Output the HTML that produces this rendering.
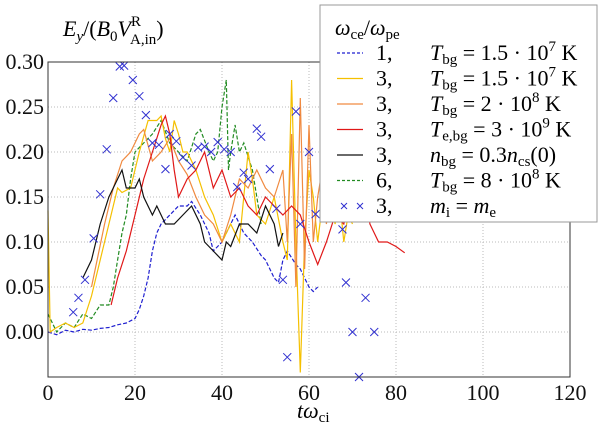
<!DOCTYPE html>
<html><head><meta charset="utf-8">
<style>
body{margin:0;background:#fff;}
svg{display:block;}
svg text{font-family:"Liberation Serif","DejaVu Serif",serif;}
</style></head>
<body>
<svg id="chart" width="600" height="424" viewBox="0 0 600 424" xmlns="http://www.w3.org/2000/svg" font-family="Liberation Serif, DejaVu Serif, serif">
<rect x="0" y="0" width="600" height="424" fill="#fff"/>
<g id="grid"></g>
<g id="series"></g>
<rect x="48" y="62" width="522" height="315" fill="none" stroke="#333" stroke-width="1"/>
<g id="ticks" font-size="22" fill="#111"></g>
<text x="63" y="36" font-size="22" font-style="italic">E<tspan font-size="15" dy="5">y</tspan><tspan dy="-5" font-style="normal">/(</tspan>B<tspan font-size="15" dy="5" font-style="normal">0</tspan><tspan dy="-5">V</tspan><tspan font-size="15" dy="-10" font-style="normal">R</tspan><tspan font-size="15" dx="-11" dy="18" font-style="normal">A,in</tspan><tspan dy="-8" font-style="normal">)</tspan></text>
<text x="297" y="418" font-size="22" font-style="italic">tω<tspan font-size="15" dy="4" font-style="normal">ci</tspan></text>
<g>
<rect x="320" y="5" width="277" height="217" fill="#fff" stroke="#999" stroke-width="1"/>
<text x="335" y="35" font-size="22" font-style="italic">ω<tspan font-size="15" dy="4" font-style="normal">ce</tspan><tspan dy="-4" font-style="normal">/</tspan>ω<tspan font-size="15" dy="4" font-style="normal">pe</tspan></text>
<g id="legend-entries" font-size="22"></g>
</g>
</svg>
<script>
const xTicks=[0,20,40,60,80,100,120];
const yTicks=[0.00,0.05,0.10,0.15,0.20,0.25,0.30];
const blueT=[0,2,4,6,8,10,12,14,16,18,20,21,22,23,24,25,26,28,30,32,33,35,37,38,40,41,42,43,45,47,49,50,52,53,54,55,57,58,59,60,61,62];
const blueV=[0.0,-0.003,0.002,0.0,0.003,0.002,0.004,0.005,0.008,0.01,0.015,0.025,0.04,0.06,0.09,0.11,0.12,0.13,0.14,0.14,0.145,0.13,0.11,0.09,0.1,0.11,0.12,0.13,0.11,0.1,0.085,0.08,0.06,0.055,0.08,0.09,0.075,0.07,0.06,0.05,0.045,0.05];
const yellowT=[0,0.5,2,4,6,8,10,12,14,16,17,19,21,23,25,26,27,28,29,30,31,32,34,36,38,40,42,44,46,47,48,50,52,54,55,56,57,58,59,60,61,62,63,64,65,66,67,68,69,70];
const yellowV=[0.135,0.0,0.005,0.01,0.005,0.01,0.04,0.08,0.12,0.16,0.155,0.16,0.2,0.235,0.235,0.24,0.215,0.2,0.235,0.22,0.2,0.2,0.18,0.15,0.13,0.1,0.12,0.1,0.2,0.17,0.13,0.12,0.15,0.1,0.08,0.28,0.1,-0.045,0.1,0.18,0.15,0.1,0.14,0.16,0.14,0.12,0.15,0.1,0.13,0.12];
const orangeT=[10,13,15,17,19,21,22,24,26,28,30,32,34,36,38,40,42,44,46,48,50,52,54,55,56,57,58,59,60,61,62,63,64,65,66];
const orangeV=[0.05,0.12,0.16,0.19,0.2,0.22,0.225,0.19,0.2,0.215,0.19,0.175,0.15,0.13,0.12,0.1,0.13,0.17,0.16,0.18,0.16,0.15,0.18,0.1,0.22,0.05,0.26,0.07,0.23,0.1,0.15,0.18,0.12,0.16,0.14];
const redT=[14.5,16,18,20,22,24,26,27,28,29,30,32,34,36,38,40,42,44,46,48,50,52,54,56,58,60,62,64,66,68,70,72,74,76,78,80,82];
const redV=[0.03,0.06,0.09,0.13,0.17,0.2,0.23,0.24,0.22,0.18,0.15,0.17,0.18,0.2,0.16,0.18,0.15,0.16,0.14,0.13,0.15,0.14,0.13,0.14,0.13,0.1,0.075,0.1,0.13,0.12,0.16,0.2,0.12,0.1,0.1,0.095,0.088];
const blackT=[8,10,12,14,16,17,18,20,21,22,24,25,27,29,31,33,35,36,38,40,41,42,44,46,48,50,52,53,54];
const blackV=[0.06,0.08,0.12,0.15,0.17,0.18,0.16,0.16,0.17,0.15,0.13,0.14,0.12,0.12,0.13,0.14,0.12,0.1,0.09,0.08,0.1,0.095,0.12,0.12,0.11,0.14,0.12,0.095,0.11];
const greenT=[0,2,4,6,8,10,12,14,15,16,17,18,19,20,22,24,26,28,30,32,34,35,37,38,39,40,41,41.5,42,43,44,45,47,48,49];
const greenV=[0.02,0.0,0.01,0.005,0.02,0.015,0.03,0.03,0.05,0.08,0.11,0.13,0.17,0.2,0.21,0.22,0.235,0.21,0.2,0.19,0.22,0.225,0.2,0.19,0.2,0.25,0.28,0.18,0.2,0.23,0.2,0.21,0.18,0.15,0.12];
const crossT=[5.8,7,8.5,10.5,12,13.5,15,16.5,17.5,19.5,21,22.5,24,25.5,27,28,29.5,31,33,34.5,36,37.5,39,40.5,42,43.5,45,46,48,49,51,52.5,54,55,57,58,60,61.5,67.7,68.5,70,71.5,73,75];
const crossV=[0.022,0.038,0.058,0.104,0.153,0.203,0.26,0.295,0.296,0.28,0.262,0.241,0.21,0.208,0.181,0.22,0.212,0.194,0.185,0.205,0.206,0.2,0.211,0.203,0.2,0.161,0.177,0.17,0.226,0.217,0.181,0.137,0.058,-0.028,0.245,0.12,0.2,0.131,0.114,0.055,0.0,-0.05,0.038,0.0];

const NS="http://www.w3.org/2000/svg";
const X0=48,X1=570,Y0=377,Y1=62,xmin=0,xmax=120,ymin=-0.05,ymax=0.30;
function sx(t){return X0+(t-xmin)/(xmax-xmin)*(X1-X0);}
function sy(v){return Y0-(v-ymin)/(ymax-ymin)*(Y0-Y1);}
function mk(tag,attrs,parent){const e=document.createElementNS(NS,tag);for(const k in attrs)e.setAttribute(k,attrs[k]);parent.appendChild(e);return e;}
const grid=document.getElementById('grid'),ticks=document.getElementById('ticks'),ser=document.getElementById('series');
xTicks.forEach(t=>{
  const l=mk('line',{x1:sx(t),x2:sx(t),y1:Y1,y2:Y0,stroke:'#bbb','stroke-dasharray':'1,2'},grid);
  
  
  const tx=mk('text',{x:sx(t),y:400,'text-anchor':'middle'},ticks);tx.textContent=t;
  
  
});
yTicks.forEach(v=>{
  const l=mk('line',{x1:X0,x2:X1,y1:sy(v),y2:sy(v),stroke:'#bbb','stroke-dasharray':'1,2'},grid);
  
  
  const tx=mk('text',{x:44,y:sy(v)+7,'text-anchor':'end'},ticks);tx.textContent=v.toFixed(2);
  
  
});
function line(T,V,color,dash,name){
  const d=T.map((t,i)=>(i?'L':'M')+sx(t).toFixed(1)+','+sy(V[i]).toFixed(1)).join('');
  const p=mk('path',{d:d,fill:'none',stroke:color,'stroke-width':1.2},ser);
  if(dash)p.setAttribute('stroke-dasharray',dash);
  
  
}
line(greenT,greenV,'#228b22','4,2','series-wce6-tbg8e8');
line(blueT,blueV,'#1f1fd0','4,2','series-wce1-tbg1.5e7');
line(yellowT,yellowV,'#f5c000',null,'series-wce3-tbg1.5e7');
line(orangeT,orangeV,'#f08a40',null,'series-wce3-tbg2e8');
line(redT,redV,'#e01818',null,'series-wce3-teb3e9');
line(blackT,blackV,'#111',null,'series-wce3-nbg0.3');
crossT.forEach((t,i)=>{
  const x=sx(t),y=sy(crossV[i]);
  const g=mk('path',{d:`M${x-4},${y-4}L${x+4},${y+4}M${x-4},${y+4}L${x+4},${y-4}`,stroke:'#3030d0','stroke-width':1},ser);
  
  
});
const legendRows=[
 ['#1f1fd0','4,2',false,'1,','T','bg','= 1.5 · 10','7',' K'],
 ['#f5c000',null,false,'3,','T','bg','= 1.5 · 10','7',' K'],
 ['#f08a40',null,false,'3,','T','bg','= 2 · 10','8',' K'],
 ['#e01818',null,false,'3,','T','e,bg','= 3 · 10','9',' K'],
 ['#111',null,false,'3,','n','bg','',' ',''],
 ['#228b22','4,2',false,'6,','T','bg','= 8 · 10','8',' K'],
 ['#3030d0',null,true,'3,','m','i','','','']
];
const le=document.getElementById('legend-entries');
legendRows.forEach((r,i)=>{
  const y=60+i*25.5;
  const g=mk('g',{},le);
  
  
  if(r[2]){
    [344,360].forEach(x=>mk('path',{d:`M${x-3},${y-10}L${x+3},${y-4}M${x-3},${y-4}L${x+3},${y-10}`,stroke:r[0],'stroke-width':1},g));
  } else {
    const l=mk('line',{x1:337,x2:363,y1:y-7,y2:y-7,stroke:r[0],'stroke-width':1.2},g);
    if(r[1])l.setAttribute('stroke-dasharray','3,2');
  }
  const t1=mk('text',{x:376,y:y},g);t1.textContent=r[3];
  const t2=mk('text',{x:430,y:y},g);
  let html=`<tspan font-style="italic">${r[4]}</tspan><tspan font-size="15" dy="4">${r[5]}</tspan><tspan dy="-4"> ${r[6]}</tspan>`;
  if(i===4) html=`<tspan font-style="italic">n</tspan><tspan font-size="15" dy="4">bg</tspan><tspan dy="-4"> = 0.3</tspan><tspan font-style="italic">n</tspan><tspan font-size="15" dy="4">cs</tspan><tspan dy="-4">(0)</tspan>`;
  else if(i===6) html=`<tspan font-style="italic">m</tspan><tspan font-size="15" dy="4">i</tspan><tspan dy="-4"> = </tspan><tspan font-style="italic">m</tspan><tspan font-size="15" dy="4">e</tspan>`;
  else html+=`<tspan font-size="15" dy="-9">${r[7]}</tspan><tspan dy="9">${r[8]}</tspan>`;
  t2.innerHTML=html;
});
</script>
</body></html>
